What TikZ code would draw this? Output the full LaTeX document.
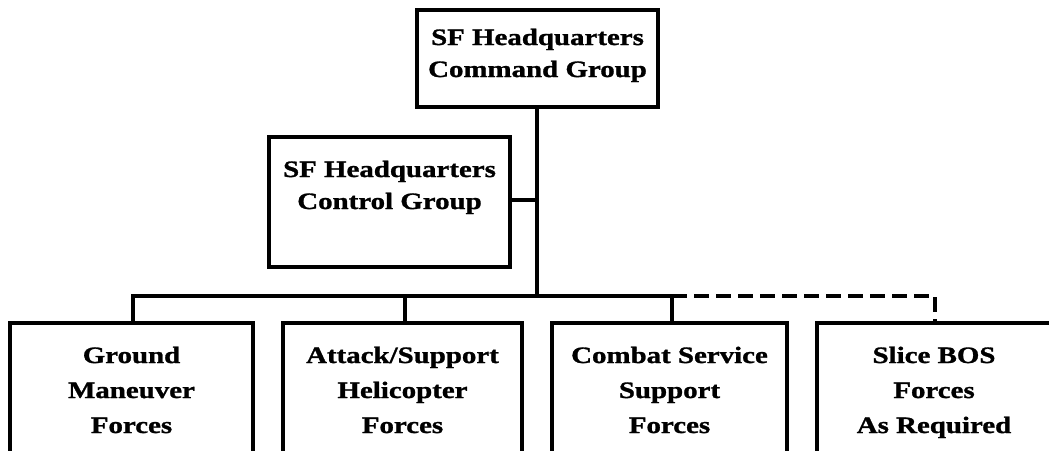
\documentclass[tikz,border=0pt]{standalone}
\usepackage{fontspec}
\setmainfont{Liberation Serif}[FakeStretch=1.23, BoldFeatures={FakeBold=1.2}]
\begin{document}
\begin{tikzpicture}[x=1pt,y=-1pt,
  box/.style={draw, line width=4pt, rectangle, inner sep=0pt, fill=white},
  txt/.style={font=\bfseries\fontsize{23.5}{32}\selectfont, align=center, inner sep=0pt, anchor=base},
  btxt/.style={txt, font=\bfseries\fontsize{23.5}{35}\selectfont},
  link/.style={line width=4pt},
  dlink/.style={line width=4pt, dash pattern=on 15pt off 7pt}]
\useasboundingbox (0,0) rectangle (1049,450);
\clip (0,0) rectangle (1049,450);

% headquarters boxes (the base anchor sits on the last text line)
\node[box, minimum width=241pt, minimum height=97pt] (cmd) at (537.5,58.5) {};
\node[txt] (cmdt) at (537.5,77) {SF Headquarters\\Command Group};
\node[box, minimum width=241pt, minimum height=130pt] (ctrl) at (389.5,202) {};
\node[txt] (ctrlt) at (389.5,209) {SF Headquarters\\Control Group};

% subordinate force boxes (running past the lower edge)
\node[box, minimum width=243pt, minimum height=134pt] (ground) at (131.5,390) {};
\node[btxt] (groundt) at (131.5,433) {Ground\\Maneuver\\Forces};
\node[box, minimum width=239pt, minimum height=134pt] (attack) at (402.5,390) {};
\node[btxt] (attackt) at (402.5,433) {Attack/Support\\Helicopter\\Forces};
\node[box, minimum width=235pt, minimum height=134pt] (css) at (669.5,390) {};
\node[btxt] (csst) at (669.5,433) {Combat Service\\Support\\Forces};
\node[box, minimum width=239pt, minimum height=134pt] (slice) at (936.5,390) {};
\node[btxt] (slicet) at (934,433) {Slice BOS\\Forces\\As Required};

% bus junctions
\coordinate (trunk) at (537,296);
\coordinate (jc) at (537,200);
\coordinate (bG) at (133,296);
\coordinate (bA) at (405,296);
\coordinate (bC) at (672,296);
\coordinate (bS) at (935,296);

% connectors
\draw[link] (cmd.south -| trunk) -- (trunk);
\draw[link] (ctrl.east |- jc) -- (jc);
\draw[link, line join=miter] (bG |- ground.north) -- (bG) -- (bC) -- (bC |- css.north);
\draw[link] (bA) -- (bA |- attack.north);
\draw[dlink] (bC) -- (bS) -- (bS |- slice.north);
\end{tikzpicture}
\end{document}
